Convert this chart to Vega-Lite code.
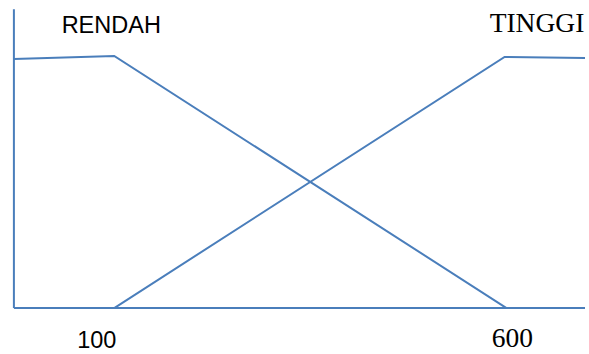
{
  "$schema": "https://vega.github.io/schema/vega-lite/v6.json",
  "width": 589,
  "height": 354,
  "padding": 0,
  "autosize": {"type": "fit", "contains": "padding"},
  "background": "white",
  "config": {"view": {"stroke": null}},
  "datasets": {
    "lines": [
      {"s": "axisY", "o": 0, "x": -27.85, "y": 1.19},
      {"s": "axisY", "o": 1, "x": -27.85, "y": 0},
      {"s": "axisX", "o": 0, "x": -27.85, "y": 0},
      {"s": "axisX", "o": 1, "x": 700, "y": 0},
      {"s": "RENDAH", "o": 0, "x": -27.85, "y": 0.992},
      {"s": "RENDAH", "o": 1, "x": 100, "y": 1.004},
      {"s": "RENDAH", "o": 2, "x": 600, "y": 0},
      {"s": "TINGGI", "o": 0, "x": 100, "y": 0},
      {"s": "TINGGI", "o": 1, "x": 597.5, "y": 1.0},
      {"s": "TINGGI", "o": 2, "x": 700, "y": 0.996}
    ],
    "sans": [
      {"x": 96.2, "y": 1.097, "t": "RENDAH"},
      {"x": 77.8, "y": -0.159, "t": "100"}
    ],
    "serif": [
      {"x": 578.5, "y": 1.101, "t": "TINGGI"},
      {"x": 581, "y": -0.155, "t": "600"}
    ]
  },
  "layer": [
    {
      "data": {"name": "lines"},
      "mark": {"type": "line", "color": "#4a7ebb", "strokeWidth": 2, "clip": false},
      "encoding": {
        "x": {"field": "x", "type": "quantitative", "scale": {"domain": [-45.57, 700], "nice": false, "zero": false}, "axis": null},
        "y": {"field": "y", "type": "quantitative", "scale": {"domain": [-0.183, 1.227], "nice": false, "zero": false}, "axis": null},
        "detail": {"field": "s"},
        "order": {"field": "o", "type": "quantitative"}
      }
    },
    {
      "data": {"name": "sans"},
      "mark": {"type": "text", "font": "Liberation Sans", "fontSize": 23.5, "baseline": "alphabetic", "align": "center", "color": "black"},
      "encoding": {
        "x": {"field": "x", "type": "quantitative"},
        "y": {"field": "y", "type": "quantitative"},
        "text": {"field": "t"}
      }
    },
    {
      "data": {"name": "serif"},
      "mark": {"type": "text", "font": "Liberation Serif", "fontSize": 27.5, "baseline": "alphabetic", "align": "left", "color": "black"},
      "encoding": {
        "x": {"field": "x", "type": "quantitative"},
        "y": {"field": "y", "type": "quantitative"},
        "text": {"field": "t"},
        "align": {"value": "left"}
      }
    }
  ]
}
